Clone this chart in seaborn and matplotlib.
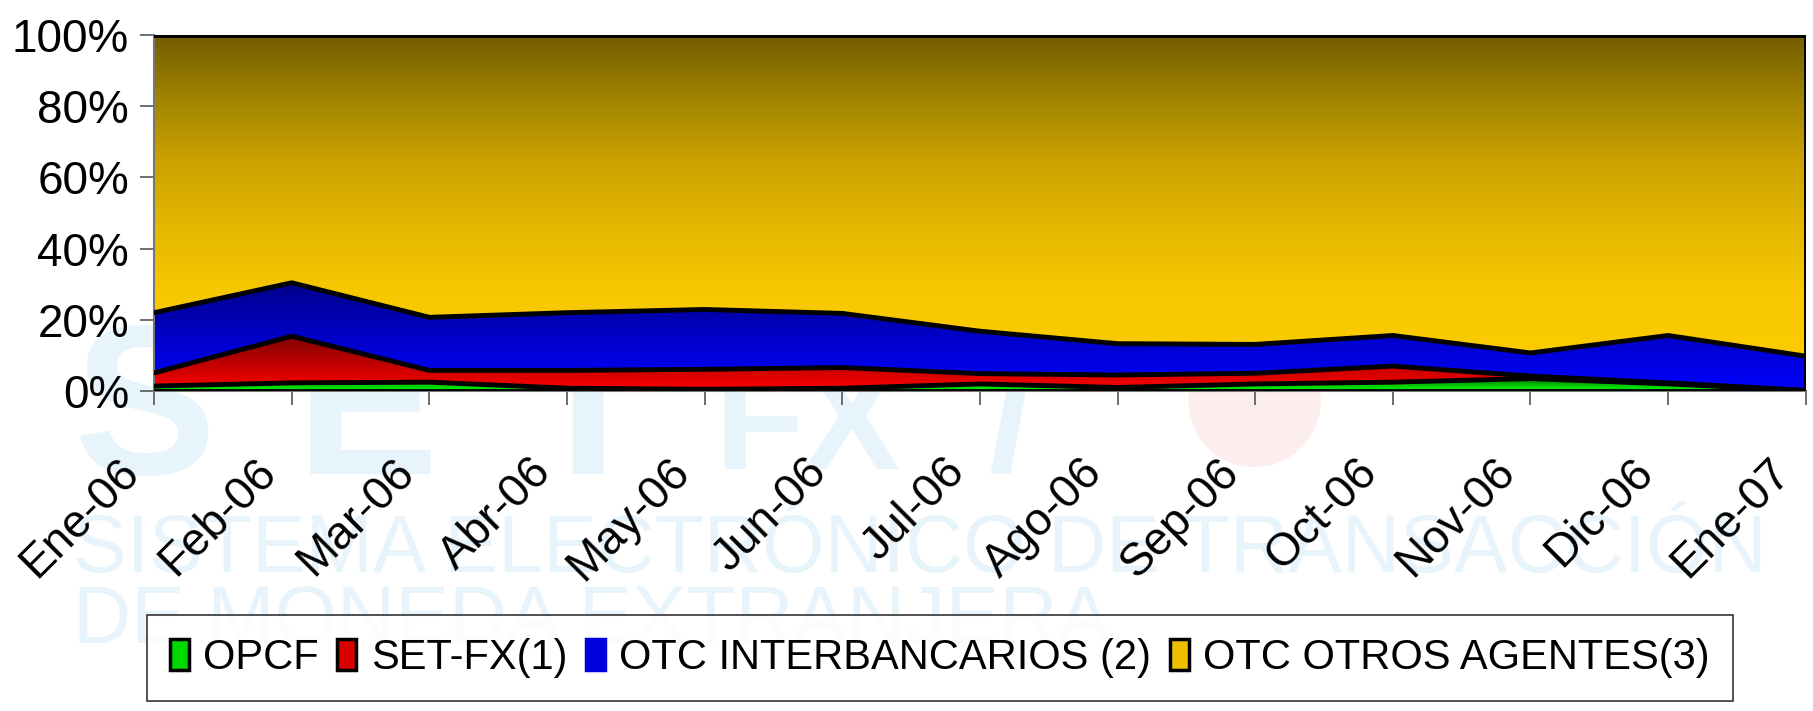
import numpy as np
import pandas as pd
import matplotlib
matplotlib.use("Agg")
import matplotlib.pyplot as plt
import matplotlib.transforms as mtransforms
import seaborn as sns
from matplotlib.colors import LinearSegmentedColormap
from matplotlib.patches import PathPatch, Ellipse, Rectangle
from matplotlib.ticker import FuncFormatter

# ---------------- data ----------------
months = ["Ene-06", "Feb-06", "Mar-06", "Abr-06", "May-06", "Jun-06", "Jul-06",
          "Ago-06", "Sep-06", "Oct-06", "Nov-06", "Dic-06", "Ene-07"]
opcf = [1.4, 2.3, 2.5, 0.8, 0.5, 0.8, 2.0, 1.0, 2.0, 2.5, 3.5, 2.0, 0.1]
setfx = [3.7, 13.1, 3.3, 5.0, 5.6, 5.8, 2.9, 3.5, 3.0, 4.5, 0.7, 0.3, 0.1]
otc_inter = [16.9, 15.0, 14.9, 16.2, 16.8, 15.2, 11.9, 8.8, 8.1, 8.6, 6.5, 13.3, 9.6]
otc_otros = [78.0, 69.6, 79.3, 78.0, 77.1, 78.2, 83.2, 86.7, 86.9, 84.4, 89.3, 84.4, 90.2]
series_names = ["OPCF", "SET-FX(1)", "OTC INTERBANCARIOS (2)", "OTC OTROS AGENTES(3)"]
y_ticks = [0, 20, 40, 60, 80, 100]

# gradient colour stops, bottom -> top of each band
grad_stops = [["#00ff00", "#00c000", "#006000"],
              ["#ff0000", "#c00000", "#800000"],
              ["#0000ff", "#0000c8", "#000088"],
              ["#fccc00", "#f7c700", "#e4b700", "#cca200", "#a08400", "#735c00"]]

sns.set_theme(style="white")
plt.rcParams["font.family"] = ["Liberation Sans", "DejaVu Sans"]
plt.rcParams["text.color"] = "black"

df = pd.DataFrame({"month": months, "OPCF": opcf, "SET-FX(1)": setfx,
                   "OTC INTERBANCARIOS (2)": otc_inter,
                   "OTC OTROS AGENTES(3)": otc_otros})
vals = df[series_names].to_numpy(dtype=float)
vals = vals / vals.sum(axis=1, keepdims=True) * 100
cum = np.cumsum(vals, axis=1)
x = np.arange(len(months))

fig = plt.figure(figsize=(18.13, 7.11), dpi=100)
fig.patch.set_facecolor("white")

# ---- faint watermark (logo behind the chart) ----
wm = "#e8f4fb"
for letter, xpos in [("S", 0.041), ("E", 0.163), ("T", 0.288)]:
    fig.text(xpos, 0.333, letter, fontsize=154, fontweight="bold", color=wm,
             ha="left", va="baseline", zorder=-5)
fig.text(0.394, 0.34, "FX", fontsize=105, fontweight="bold", color=wm,
         ha="left", va="baseline", zorder=-5)
fig.text(0.545, 0.34, "/", fontsize=120, fontweight="bold", color=wm,
         ha="left", va="baseline", zorder=-5)
fig.patches.append(Ellipse((0.692, 0.436), 0.073, 0.186, transform=fig.transFigure,
                           facecolor="#fdeeee", edgecolor="none", zorder=-5,
                           figure=fig))
fig.text(0.04, 0.195, "SISTEMA ELECTRÓNICO DE TRANSACCIÓN", fontsize=58,
         color=wm, ha="left", va="baseline", zorder=-5)
fig.text(0.04, 0.095, "DE MONEDA EXTRANJERA", fontsize=58,
         color=wm, ha="left", va="baseline", zorder=-5)

ax = fig.add_axes([0.085, 0.45, 0.911, 0.501])
ax.patch.set_alpha(0)

# ---- gradient-filled stacked areas ----
for i, name in enumerate(series_names):
    lower = cum[:, i - 1] if i > 0 else np.zeros(len(x))
    upper = cum[:, i]
    poly = ax.fill_between(x, lower, upper, facecolor="none", edgecolor="none")
    path = poly.get_paths()[0]
    patch = PathPatch(path, transform=ax.transData, facecolor="none", edgecolor="none")
    ymin, ymax = lower.min(), upper.max()
    if i == 3:
        ymin = 10
    cmap = LinearSegmentedColormap.from_list(name, grad_stops[i])
    grad = np.linspace(0, 1, 256).reshape(-1, 1)
    im = ax.imshow(grad, extent=[x[0], x[-1], ymin, ymax], origin="lower",
                   aspect="auto", cmap=cmap, zorder=1, interpolation="bilinear")
    im.set_clip_path(patch)

# ---- black boundary lines drawn with seaborn ----
long = []
for i in range(-1, 4):
    yy = cum[:, i] if i >= 0 else np.zeros(len(x))
    for xi, yi in zip(x, yy):
        long.append({"x": xi, "y": yi, "b": i})
long = pd.DataFrame(long)
sns.lineplot(data=long, x="x", y="y", units="b", estimator=None, color="black",
             lw=3.5, ax=ax, zorder=3, legend=False)
ax.plot([x[-1], x[-1]], [0, 100], color="black", lw=3.5, zorder=3,
        solid_capstyle="butt")

ax.set_xlim(x[0], x[-1])
ax.set_ylim(0, 100)
ax.set_xlabel("")
ax.set_ylabel("")
ax.set_xticks(x)
ax.set_xticklabels(months, rotation=45, ha="right", va="center",
                   rotation_mode="anchor", fontsize=33)
ax.set_yticks(y_ticks)
ax.yaxis.set_major_formatter(FuncFormatter(lambda v, p: f"{v:.0f}%"))
ax.tick_params(axis="y", labelsize=33, length=10, width=1.2, color="#555555",
               labelcolor="black", direction="out", left=True, pad=8)
ax.tick_params(axis="x", length=10, width=1.2, color="#555555", labelcolor="black",
               direction="out", bottom=True, pad=40)
offset = mtransforms.ScaledTranslation(-0.22, -0.05, fig.dpi_scale_trans)
for lab in ax.get_xticklabels():
    lab.set_transform(lab.get_transform() + offset)
for s in ["left", "bottom"]:
    ax.spines[s].set_color("#777777")
    ax.spines[s].set_linewidth(1.5)
ax.spines["top"].set_visible(False)
ax.spines["right"].set_visible(False)

# ---- legend ----
handles = []
for i, name in enumerate(series_names):
    mid = LinearSegmentedColormap.from_list("m", grad_stops[i])(0.3)
    ec = "black" if i != 2 else mid
    handles.append(Rectangle((0, 0), 1, 1, facecolor=mid, edgecolor=ec, lw=2.5))
leg = fig.legend(handles, series_names, loc="upper left",
                 bbox_to_anchor=(0.081, 0.135), ncol=4, fontsize=30,
                 frameon=True, fancybox=False, handlelength=0.45,
                 handleheight=0.75, handletextpad=0.35, columnspacing=0.45,
                 borderpad=0.55, borderaxespad=0)
leg.get_frame().set_edgecolor("black")
leg.get_frame().set_linewidth(1.2)
leg.get_frame().set_facecolor("white")

fig.savefig("out.png", dpi=100)
